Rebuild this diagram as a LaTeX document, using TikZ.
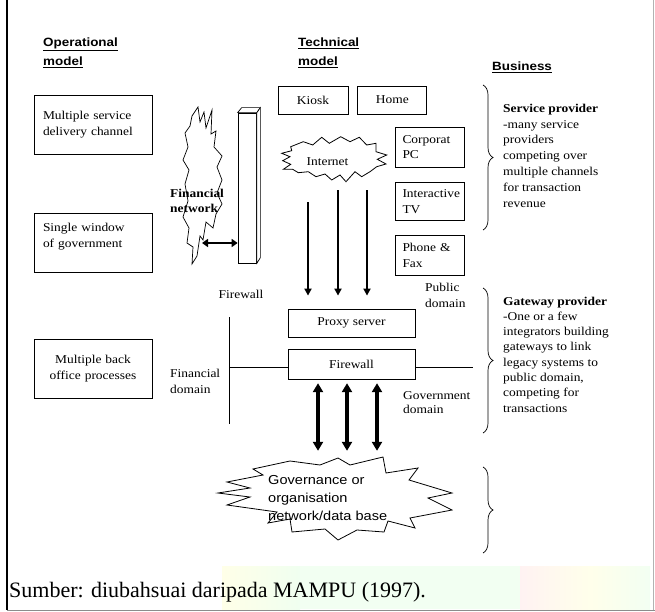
\documentclass[tikz,border=0pt]{standalone}
\usepackage{fontspec}
\setmainfont{Liberation Serif}[FakeStretch=1.12]
\newfontfamily\headfont{Liberation Sans}[FakeStretch=1.12]
\newfontfamily\capfont{Liberation Serif}
\usetikzlibrary{arrows.meta,positioning,decorations.pathreplacing}
\tikzstyle{txt}=[inner sep=0pt,align=left,font=\fontsize{12}{15.5}\selectfont]
\tikzstyle{head}=[inner sep=0pt,align=left,font=\headfont\bfseries\fontsize{12}{19}\selectfont]
\tikzstyle{opbox}=[draw,line width=0.8pt,minimum width=118pt,minimum height=59pt,
text width=100pt,align=left,font=\fontsize{12}{16}\selectfont]
\tikzstyle{techbox}=[draw,line width=0.8pt,minimum height=28pt,font=\fontsize{12}{15.5}\selectfont]
\tikzstyle{sidebox}=[draw,line width=0.8pt,minimum width=69pt,minimum height=40pt,
text width=54pt,align=left,font=\fontsize{12}{15.5}\selectfont]
\tikzstyle{downarrow}=[-{Triangle[length=7pt,width=7pt]},line width=1.8pt]
\tikzstyle{bothway}=[{Triangle[length=9pt,width=10pt]}-{Triangle[length=9pt,width=10pt]},line width=3.5pt]
\tikzstyle{brace}=[decorate,decoration={brace,amplitude=10pt},line width=0.7pt]

\begin{document}
\begin{tikzpicture}[x=1pt,y=-1pt,node distance=12pt]
  \useasboundingbox (0,0) rectangle (655,612);
  % faint watermark behind the source line
  \shade[left color=yellow!9,right color=green!6] (222,566) rectangle (300,609);
  \fill[green!5] (300,566) rectangle (520,609);
  \shade[left color=red!5,right color=yellow!8] (520,566) rectangle (590,609);
  \shade[left color=yellow!8,right color=green!5] (590,566) rectangle (650,609);
  % frame
  \draw[line width=2pt] (7,0) -- (7,610);
  \draw[black!45,line width=0.8pt] (7,610) -- (655,610);
  \draw[black!30,line width=0.8pt] (653.5,0) -- (653.5,610);

  % headings
  \node[head,anchor=west] (ophead) at (43,52.5) {\underline{Operational}\\\underline{model}};
  \node[head,anchor=west] (techhead) at (298,52.5) {\underline{Technical}\\\underline{model}};
  \node[head,anchor=west] (bushead) at (492,67) {\underline{Business}};

  % operational model
  \node[opbox] (chan) at (93,124.5) {Multiple service\\delivery channel};
  \node[opbox] (window) at (93,243) {Single window\\of government\\\mbox{}};
  \node[opbox,align=center] (back) at (93,368.5) {Multiple back\\office processes};

  % financial network and firewall
  \draw[line width=0.7pt] (198,107) -- (200,122) -- (204,112) -- (206,128) -- (212,110) -- (211,134)
    -- (216,131) -- (214,147) -- (222,156) -- (217,167) -- (222,180) -- (217,193) -- (222,204)
    -- (216,214) -- (213,228) -- (206,222) -- (203,240) -- (200,236) -- (197,256) -- (192,264)
    -- (193,247) -- (187,243) -- (189,228) -- (183,217) -- (188,201) -- (185,184) -- (189,170)
    -- (183,160) -- (188,147) -- (185,133) -- (190,126) -- (192,116) -- cycle;
  \node[txt,anchor=west,font=\bfseries\fontsize{12}{15}\selectfont] (finnet) at (170,200.5) {Financial\\network};
  \node[draw,line width=0.7pt,fill=white,minimum width=18.5pt,minimum height=150pt,inner sep=0pt] (fwbar) at (247.25,188) {};
  \draw[line width=0.7pt,fill=white] (fwbar.north west) -- ++(4,-5) -- ++(18.5,0) -- (fwbar.north east) -- cycle;
  \draw[line width=0.7pt,fill=white] (fwbar.north east) -- ++(3.5,-5) -- ++(0,150) -- (fwbar.south east) -- cycle;
  \coordinate (finport) at (202,243);
  \path[{Triangle[length=6pt,width=8pt]}-{Triangle[length=6pt,width=8pt]},line width=2.6pt]
    (finport) edge (finport -| fwbar.west);
  \node[txt] (fwlabel) at (241,294) {Firewall};

  % technical model
  \node[techbox,minimum width=70pt] (kiosk) at (313,100) {Kiosk};
  \node[techbox,minimum width=69pt,right=9pt of kiosk] (home) {Home};
  \draw[line width=0.8pt] (290.7,146.7) -- (303.3,141.7) -- (312.7,145) -- (321.7,137.3) -- (329.3,143.3)
    -- (340.7,136.7) -- (350,141.7) -- (359.3,137.3) -- (366.7,145) -- (376,143.3) -- (376,151.7)
    -- (386.7,155) -- (377.3,159.3) -- (386,164) -- (376.7,166.7) -- (370,171.7) -- (361.7,176.7)
    -- (355,171.7) -- (346,181.7) -- (340,175) -- (331.7,180) -- (325,174) -- (316,176.7)
    -- (308.3,171.7) -- (298.3,172.7) -- (292.7,169.3) -- (283.3,169.3) -- (290.7,164.3)
    -- (282.7,160.7) -- (290,156.7) -- (281.7,153.3) -- (291.7,150.7) -- cycle;
  \node[txt,minimum width=100pt,minimum height=56pt,align=center] (inet) at (327.5,162) {Internet};
  \node[sidebox] (corp) at (429.5,147) {Corporat\\PC};
  \node[sidebox,minimum height=38pt,below=15pt of corp] (itv) {Interactive\\TV};
  \node[sidebox,below=14pt of itv] (phone) {Phone \&\\Fax};
  \node[techbox,minimum width=127pt] (proxy) at (351.5,323) {Proxy server};
  \node[techbox,minimum width=127pt,minimum height=30pt,below=12pt of proxy] (fw) {Firewall};
  \foreach \dx/\gap in {-19.5/12,10.5/0,39.5/0}
    \path[downarrow,shorten <=\gap pt,shorten >=13pt]
      ([xshift=\dx pt]inet.south) edge ([xshift=\dx pt]inet.south |- proxy.north);
  \node[txt,anchor=west,font=\fontsize{12}{16.5}\selectfont] (pubdom) at (425,295.5) {Public\\domain};

  % domains
  \coordinate (domtop) at (229,317);
  \coordinate (dombot) at (229,424);
  \draw[line width=0.9pt] (domtop) -- (dombot);
  \draw[line width=0.9pt] ([yshift=-3pt]fw.west) -- ([yshift=-3pt]fw.west -| domtop);
  \draw[line width=0.9pt] ([yshift=-3pt]fw.east) -- ++(58,0);
  \node[txt,anchor=west] (findom) at (170,381.5) {Financial\\domain};
  \node[txt,anchor=west,font=\fontsize{12}{14}\selectfont] (govdom) at (403,402.5) {Government\\domain};

  % governance network
  \draw[line width=0.8pt] (253,469) -- (290,461) -- (320,465) -- (338,458) -- (350,465) -- (383,457)
    -- (386,473) -- (418,468) -- (409,480) -- (452,493) -- (428,498) -- (452,510) -- (410,518)
    -- (415,528) -- (388,521) -- (384,532) -- (357,530) -- (338,540) -- (325,529) -- (292,532)
    -- (290,519) -- (268,523) -- (277,512) -- (227,505) -- (250,497) -- (218,493) -- (250,488)
    -- (227,482) -- (263,475) -- cycle;
  \node[txt,anchor=west,minimum height=80pt,font=\headfont\fontsize{13}{18}\selectfont] (gov) at (268,498)
    {Governance or\\organisation\\network/data base};
  \foreach \dx in {-33.5,-4.5,25.5}
    \path[bothway,shorten <=3pt,shorten >=7pt]
      ([xshift=\dx pt]fw.south) edge ([xshift=\dx pt]fw.south |- gov.north);

  % business model
  \draw[brace] (483,85) -- (483,230);
  \draw[brace] (483,288) -- (483,433);
  \draw[brace] (483,467) -- (483,553);
  \node[txt,anchor=west,font=\fontsize{12}{15.8}\selectfont] (service) at (503,155.5)
    {\textbf{Service provider}\\-many service\\providers\\competing over\\multiple channels\\for transaction\\revenue};
  \node[txt,anchor=west,font=\fontsize{12}{15.3}\selectfont] (gateway) at (503,354.5)
    {\textbf{Gateway provider}\\-One or a few\\integrators building\\gateways to link\\legacy systems to\\public domain,\\competing for\\transactions};

  % source
  \node[inner sep=0pt,anchor=base west,font=\capfont\fontsize{22}{27}\selectfont] (source) at (9,597)
    {Sumber: diubahsuai daripada MAMPU (1997).};
\end{tikzpicture}
\end{document}
